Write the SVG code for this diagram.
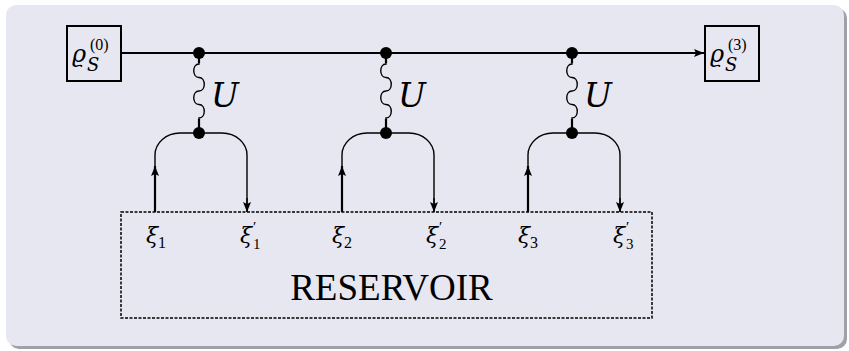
<svg xmlns="http://www.w3.org/2000/svg" width="849" height="351" viewBox="0 0 849 351">
<defs>
<style>
.m{font-family:"DejaVu Serif","Liberation Serif",serif;font-style:italic;fill:#000}
.r{font-family:"Liberation Serif","DejaVu Serif",serif;font-style:normal;fill:#000}
.box{fill:none;stroke:#000;stroke-width:2}
.thick{fill:none;stroke:#000;stroke-width:2.2}
.thin{fill:none;stroke:#000;stroke-width:1.4}
.dot{fill:#000}
</style>
<marker id="ah" viewBox="0 0 10 10" refX="10" refY="5" markerWidth="10" markerHeight="10" markerUnits="userSpaceOnUse" orient="auto">
<path d="M0,1 L10,5 L0,9 L2,5 Z" fill="#000"/>
</marker>
<path id="wave" d="M0,62 V64 C-7,64 -7,77.5 0,77.5 C7,77.5 7,91 0,91 C-7,91 -7,104.5 0,104.5 C7,104.5 7,118 0,118 V120" fill="none" stroke="#000" stroke-width="1.4"/>
</defs>
<rect x="9" y="8" width="838" height="341" rx="10" fill="#a0a0a8"/>
<rect x="6" y="5" width="838" height="341" rx="10" fill="#e7e7f2"/>

<g id="connectors">
<line x1="121" y1="53" x2="704" y2="53" class="thick" marker-end="url(#ah)"/>
<g id="link1" transform="translate(199,0)">
<use href="#wave"/>
<line x1="0" y1="53" x2="0" y2="63" class="thick"/>
<line x1="0" y1="119" x2="0" y2="133" class="thick"/>
<path d="M-44,166 V155 A25,22 0 0 1 -19,133 H23 A25,22 0 0 1 48,155 V212" class="thin"/>
<line x1="-44" y1="212" x2="-44" y2="166" class="thick" marker-end="url(#ah)"/>
<line x1="48" y1="198" x2="48" y2="212" class="thin" marker-end="url(#ah)"/>
</g>
<g id="link2" transform="translate(386,0)">
<use href="#wave"/>
<line x1="0" y1="53" x2="0" y2="63" class="thick"/>
<line x1="0" y1="119" x2="0" y2="133" class="thick"/>
<path d="M-44,166 V155 A25,22 0 0 1 -19,133 H23 A25,22 0 0 1 48,155 V212" class="thin"/>
<line x1="-44" y1="212" x2="-44" y2="166" class="thick" marker-end="url(#ah)"/>
<line x1="48" y1="198" x2="48" y2="212" class="thin" marker-end="url(#ah)"/>
</g>
<g id="link3" transform="translate(572,0)">
<use href="#wave"/>
<line x1="0" y1="53" x2="0" y2="63" class="thick"/>
<line x1="0" y1="119" x2="0" y2="133" class="thick"/>
<path d="M-44,166 V155 A25,22 0 0 1 -19,133 H23 A25,22 0 0 1 48,155 V212" class="thin"/>
<line x1="-44" y1="212" x2="-44" y2="166" class="thick" marker-end="url(#ah)"/>
<line x1="48" y1="198" x2="48" y2="212" class="thin" marker-end="url(#ah)"/>
</g>
</g>

<g id="dots">
<circle cx="199" cy="53" r="6" class="dot"/>
<circle cx="386" cy="53" r="6" class="dot"/>
<circle cx="572" cy="53" r="6" class="dot"/>
<circle cx="199" cy="133" r="6" class="dot"/>
<circle cx="386" cy="133" r="6" class="dot"/>
<circle cx="572" cy="133" r="6" class="dot"/>
</g>

<g id="U-labels">
<text x="211" y="107" class="m" font-size="33">U</text>
<text x="398" y="107" class="m" font-size="33">U</text>
<text x="584" y="107" class="m" font-size="33">U</text>
</g>

<g id="rho0">
<rect x="67" y="26" width="54" height="55" class="box"/>
<text x="72" y="62" class="m" font-size="24">ϱ</text>
<text x="87" y="71" class="m" font-size="18">S</text>
<text x="90" y="50" class="r" font-size="16">(0)</text>
</g>

<g id="rho3">
<rect x="705" y="26" width="54" height="55" class="box"/>
<text x="710" y="62" class="m" font-size="24">ϱ</text>
<text x="725" y="71" class="m" font-size="18">S</text>
<text x="728" y="50" class="r" font-size="16">(3)</text>
</g>

<g id="reservoir">
<rect x="121" y="212" width="531" height="106" fill="none" stroke="#000" stroke-width="1.5" stroke-dasharray="3,1.5"/>
<text x="391.5" y="300" class="r" font-size="37" text-anchor="middle">RESERVOIR</text>
<g id="xi1"><text x="146" y="243" class="m" font-size="22">ξ</text><text x="158" y="248" class="r" font-size="16">1</text></g>
<g id="xi1p"><text x="240" y="243" class="m" font-size="22">ξ</text><text x="253" y="232" class="r" font-size="15">′</text><text x="253" y="249" class="r" font-size="15">1</text></g>
<g id="xi2"><text x="332" y="243" class="m" font-size="22">ξ</text><text x="344" y="248" class="r" font-size="16">2</text></g>
<g id="xi2p"><text x="426" y="243" class="m" font-size="22">ξ</text><text x="439" y="232" class="r" font-size="15">′</text><text x="439" y="249" class="r" font-size="15">2</text></g>
<g id="xi3"><text x="518" y="243" class="m" font-size="22">ξ</text><text x="530" y="248" class="r" font-size="16">3</text></g>
<g id="xi3p"><text x="613" y="243" class="m" font-size="22">ξ</text><text x="626" y="232" class="r" font-size="15">′</text><text x="626" y="249" class="r" font-size="15">3</text></g>
</g>
</svg>
